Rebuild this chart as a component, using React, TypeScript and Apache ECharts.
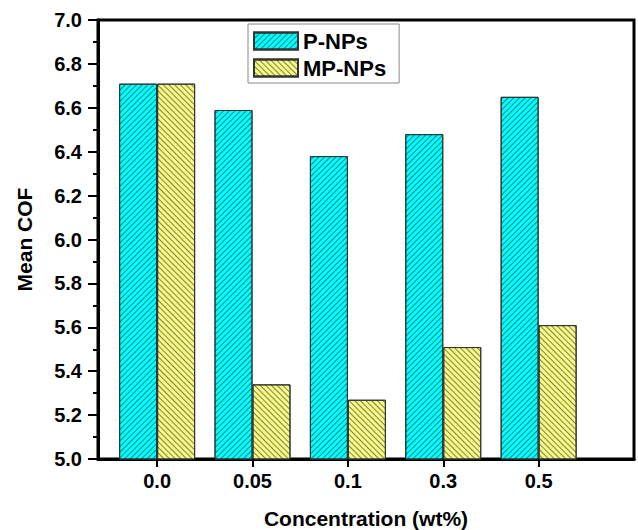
import React, { useEffect, useRef } from "react";
import * as echarts from "echarts";

const categories = ["0.0", "0.05", "0.1", "0.3", "0.5"];
const pNPs = [6.71, 6.59, 6.38, 6.48, 6.65];
const mpNPs = [6.71, 5.34, 5.27, 5.51, 5.61];
const seriesNames = ["P-NPs", "MP-NPs"];

const FONT = "Liberation Sans, Arial, sans-serif";

export default function App() {
  const ref = useRef<HTMLDivElement>(null);
  useEffect(() => {
    if (!ref.current) return;
    const chart = echarts.init(ref.current, null, { renderer: "svg" });
    const idx = categories.map((_, i) => i);
    const hatch = (rot: number) => ({
      symbol: "rect",
      symbolSize: 1,
      dashArrayX: [1, 0],
      dashArrayY: [1, 3],
      rotation: rot,
      color: "rgba(0,40,40,0.55)",
    });
    chart.setOption({
      animation: false,
      backgroundColor: "#fff",
      grid: {
        left: 98,
        top: 20,
        right: 4,
        bottom: 71,
        outerBoundsMode: "none",
        containLabel: false,
        show: true,
        borderColor: "#000",
        borderWidth: 3,
        backgroundColor: "transparent",
      },
      legend: {
        orient: "vertical",
        left: 248,
        top: 24,
        itemWidth: 44,
        itemHeight: 17,
        itemGap: 5,
        padding: [6, 13, 4, 5],
        borderColor: "#888",
        borderWidth: 1,
        backgroundColor: "#fff",
        icon: "rect",
        textStyle: { fontFamily: FONT, fontWeight: "bold", fontSize: 22, color: "#000" },
        data: seriesNames,
      },
      xAxis: {
        type: "value",
        min: -0.62,
        max: 5,
        name: "Concentration (wt%)",
        nameLocation: "middle",
        nameGap: 49,
        nameTextStyle: { fontFamily: FONT, fontWeight: "bold", fontSize: 21, color: "#000" },
        axisLine: { show: true, onZero: false, lineStyle: { color: "#000", width: 3 } },
        axisTick: { show: true, inside: false, length: 8, lineStyle: { width: 2, color: "#000" }, customValues: idx },
        axisLabel: {
          customValues: idx,
          margin: 12,
          formatter: (v: number) => categories[Math.round(v)] ?? "",
          fontFamily: FONT,
          fontWeight: "bold",
          fontSize: 20,
          color: "#000",
        },
        splitLine: { show: false },
      },
      yAxis: {
        type: "value",
        min: 5,
        max: 7,
        interval: 0.2,
        name: "Mean COF",
        nameLocation: "middle",
        nameGap: 63,
        nameTextStyle: { fontFamily: FONT, fontWeight: "bold", fontSize: 21, color: "#000" },
        axisLine: { show: true, onZero: false, lineStyle: { color: "#000", width: 3 } },
        axisTick: { show: true, inside: false, length: 10, lineStyle: { width: 2, color: "#000" } },
        minorTick: { show: true, splitNumber: 2, length: 5, lineStyle: { width: 2, color: "#000" } },
        axisLabel: {
          margin: 16,
          formatter: (v: number) => v.toFixed(1),
          fontFamily: FONT,
          fontWeight: "bold",
          fontSize: 20,
          color: "#000",
        },
        splitLine: { show: false },
      },
      series: [
        {
          name: seriesNames[0],
          type: "bar",
          barWidth: 38,
          barGap: "0%",
          data: pNPs.map((v, i) => [i, v]),
          itemStyle: {
            color: "#00ffff",
            borderColor: "#333",
            borderWidth: 1,
            decal: hatch(-Math.PI / 4),
          },
        },
        {
          name: seriesNames[1],
          type: "bar",
          barWidth: 38,
          barGap: "0%",
          data: mpNPs.map((v, i) => [i, v]),
          itemStyle: {
            color: "#fbf982",
            borderColor: "#333",
            borderWidth: 1,
            decal: hatch(Math.PI / 4),
          },
        },
      ],
    });
    return () => chart.dispose();
  }, []);
  return <div ref={ref} style={{ width: 638, height: 530, position: "absolute", left: 0, top: 0 }} />;
}
